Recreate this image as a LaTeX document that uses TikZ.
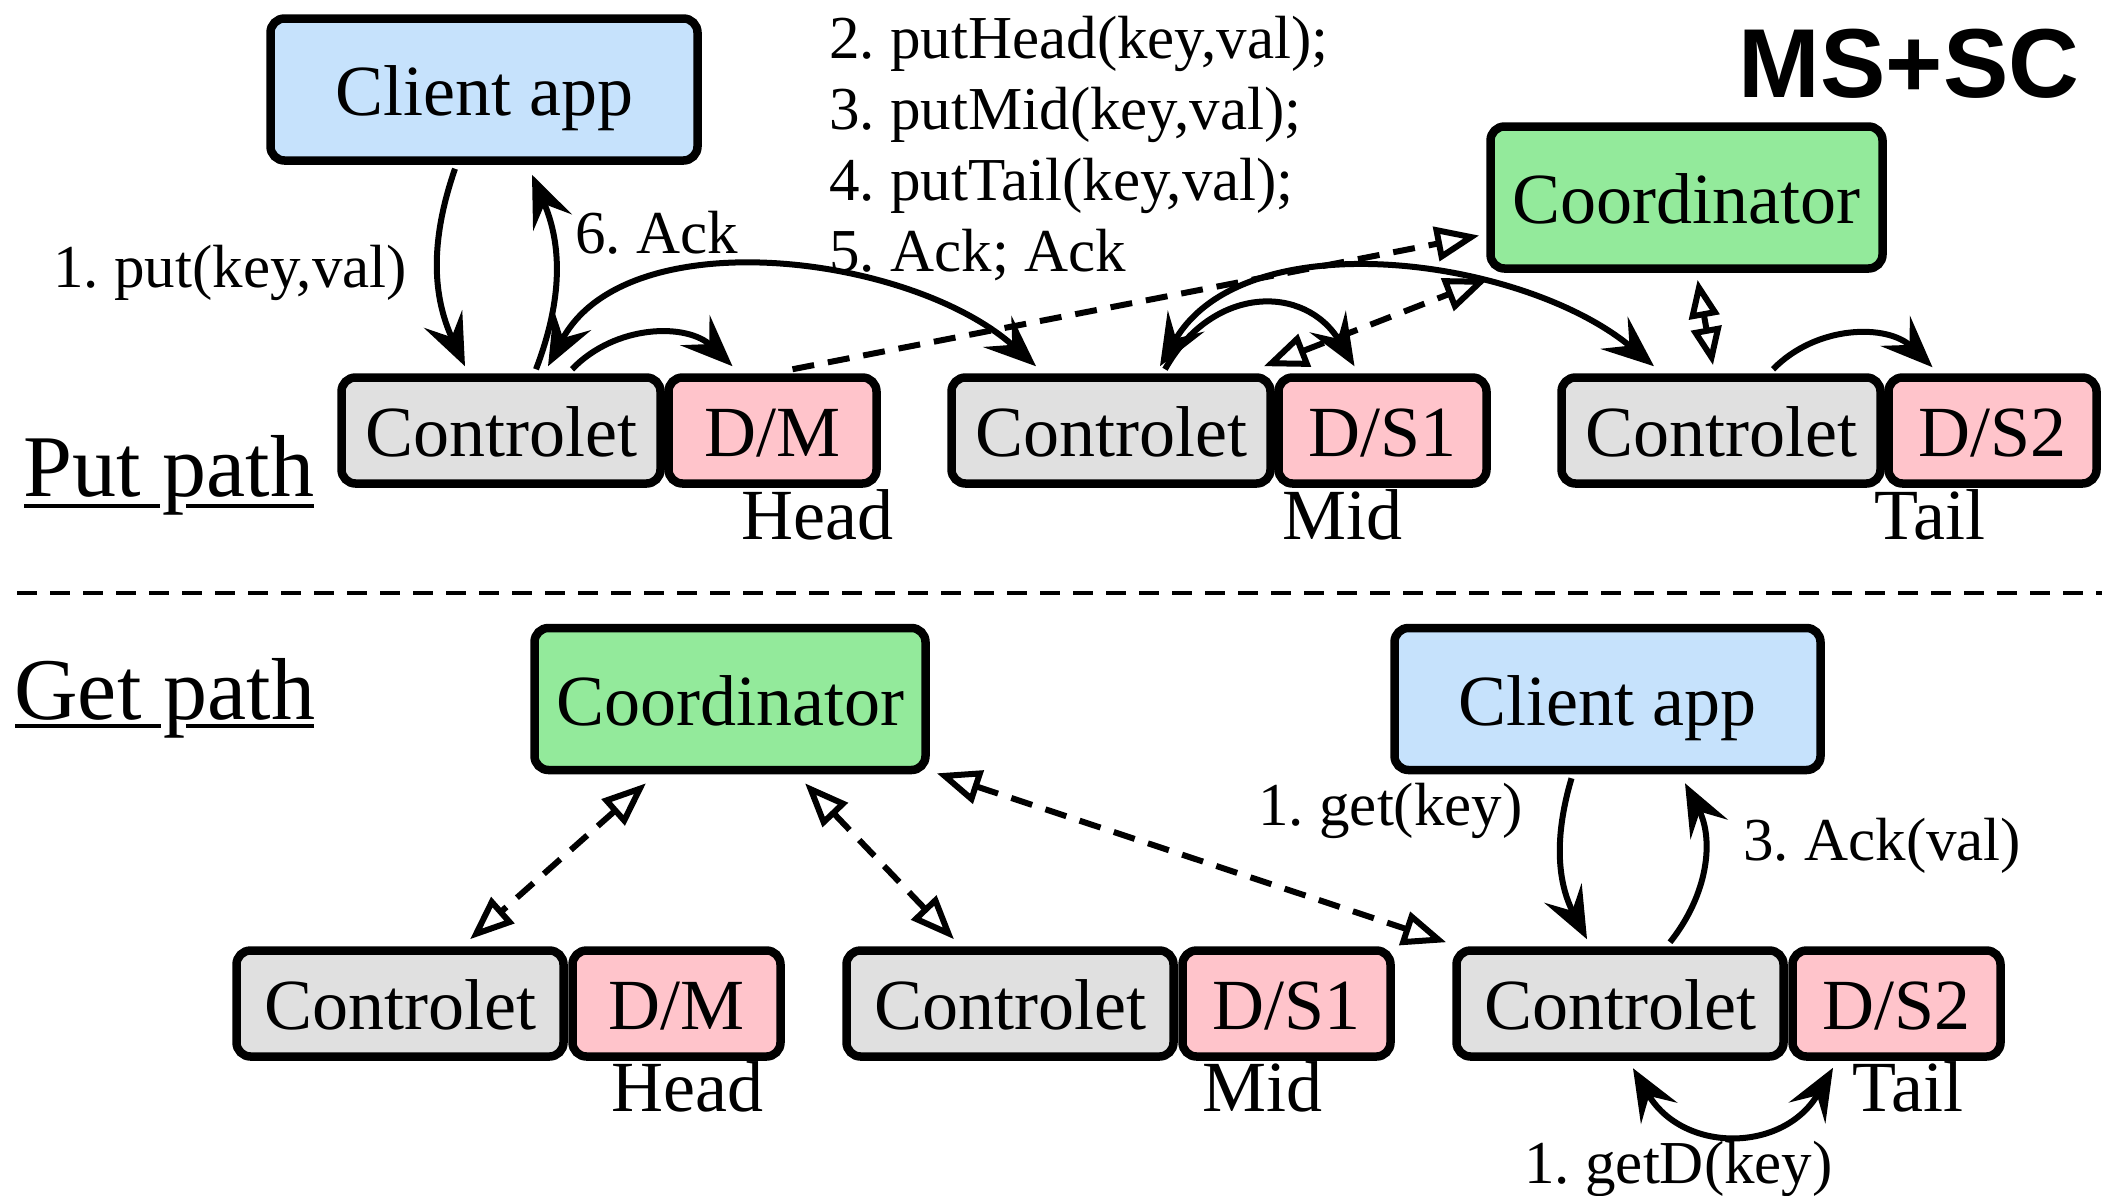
\documentclass[tikz,border=0pt]{standalone}
\usepackage{fontspec}
\setmainfont{Liberation Serif}
\setsansfont{Liberation Sans}
\usetikzlibrary{arrows.meta,calc}

\definecolor{clientblue}{HTML}{C6E2FC}
\definecolor{coordgreen}{HTML}{93EA9B}
\definecolor{ctrlgray}{HTML}{E0E0E0}
\definecolor{datapink}{HTML}{FFC4CB}

\begin{document}
\frenchspacing
\begin{tikzpicture}[x=0.5pt,y=-0.5pt,
  box/.style={draw=black, line width=4.25pt, rounded corners=7pt, inner sep=0pt,
    text height=26pt, text depth=0pt, font=\fontsize{36}{40}\selectfont},
  ctrlbox/.style={box, fill=ctrlgray, minimum width=#1, minimum height=53pt},
  databox/.style={box, fill=datapink, minimum width=104pt, minimum height=53pt},
  clientbox/.style={box, fill=clientblue, minimum width=213.5pt, minimum height=71pt},
  coordbox/.style={box, fill=coordgreen, minimum width=196pt, minimum height=71pt},
  msg/.style={inner sep=0pt, anchor=base west, font=\fontsize{30.5}{34}\selectfont},
  role/.style={inner sep=0pt, anchor=base, font=\fontsize{36}{40}\selectfont},
  pathlbl/.style={inner sep=0pt, anchor=base west, font=\fontsize{44}{48}\selectfont},
  flow/.style={line width=3pt},
  ctl/.style={line width=3pt, dash pattern=on 11pt off 7pt},
  tipS/.tip={Stealth[length=26pt, width=21pt, inset=10pt]},
  tipO/.tip={Triangle[open, length=22pt, width=17pt]},
  tipOs/.tip={Triangle[open, length=19pt, width=15pt]},
]
\useasboundingbox (0,0) rectangle (2102,1195);

% ---------------- put path ----------------
\node[clientbox] (ca) at (484,89.5) {Client app};
\node[coordbox] (co) at (1686.5,197.5) {Coordinator};

\node[ctrlbox=159.5pt] (hc) at (501,430.5) {Controlet};
\node[databox] (hd) at (772.5,430.5) {D/M};
\node[ctrlbox=159.5pt] (mc) at (1111,430.5) {Controlet};
\node[databox] (md) at (1382.5,430.5) {D/S1};
\node[ctrlbox=159.5pt] (tc) at (1721,430.5) {Controlet};
\node[databox] (td) at (1992.5,430.5) {D/S2};

\node[role] (hlbl) at (817.5,539) {Head};
\node[role] (mlbl) at (1342,539) {Mid};
\node[role] (tlbl) at (1930,539) {Tail};

\node[pathlbl] (putlbl) at (23,496) {Put path};
\draw[line width=2pt] ($(putlbl.base west)+(1,9.5)$) -- ($(putlbl.base west)+(137,9.5)$);
\draw[line width=2pt] ($(putlbl.base west)+(163,9.5)$) -- ($(putlbl.base east)+(-1,9.5)$);

\node[inner sep=0pt, anchor=base, font=\sffamily\bfseries\fontsize{49}{52}\selectfont] (title) at (1909,97) {MS+SC};

\node[msg] (m2) at (829,58) {2. putHead(key,val);};
\node[msg] (m3) at (829,129) {3. putMid(key,val);};
\node[msg] (m4) at (829,200) {4. putTail(key,val);};
\node[msg] (m5) at (829,271) {5. Ack; Ack};
\node[msg] (m1) at (53,287) {1. put(key,val)};
\node[msg] (m6) at (575,253) {6. Ack};

% client <-> head controlet
\draw[flow,-{tipS}] ($(ca.south)+(-29,4)$) to[bend right=22] ($(hc.north)+(-36,-7)$);
\draw[flow,-{tipS}] ($(hc.north)+(35,-4)$) to[bend right=22] ($(ca.south)+(48,10)$);
% chain hops
\draw[flow,{tipS}-{tipS}] ($(hc.north)+(47,-7)$) to[out=62,in=138,looseness=0.88] ($(mc.north)+(-75,-7)$);
\draw[flow,{tipS}-{tipS}] ($(mc.north)+(49,-7)$) to[out=60,in=140,looseness=0.88] ($(tc.north)+(-67,-7)$);
% controlet -> local data
\draw[flow,-{tipS}] ($(hc.north)+(71,-4)$) to[bend left=45] ($(hd.north)+(-40,-7)$);
\draw[flow,-{tipS}] ($(mc.north)+(54,-4)$) to[bend left=60,looseness=1.3] ($(md.north)+(-28,-7)$);
\draw[flow,-{tipS}] ($(tc.north)+(52,-4)$) to[bend left=45] ($(td.north)+(-60,-6)$);
% coordinator control links
\draw[ctl,-{tipO}] ($(hd.north)+(20,-4)$) -- ($(co.west)+(-7,38)$);
\draw[ctl,{tipO}-{tipO}] ($(mc.north east)+(-11,-7)$) -- ($(co.south west)+(2,6)$);
\draw[ctl,{tipOs}-{tipOs}] ($(co.south)+(11,7)$) -- ($(tc.north)+(-8,-8)$);

% ---------------- separator ----------------
\draw[line width=2.2pt, dash pattern=on 10pt off 6.5pt] (17,593) -- (2102,593);

% ---------------- get path ----------------
\node[pathlbl] (getlbl) at (14,719) {Get path};
\draw[line width=2pt] ($(getlbl.base west)+(1,7)$) -- ($(getlbl.base west)+(147,7)$);
\draw[line width=2pt] ($(getlbl.base west)+(172,7)$) -- ($(getlbl.base east)+(-1,7)$);

\node[coordbox, minimum width=195.5pt] (bco) at (730,699) {Coordinator};
\node[clientbox, minimum width=213pt] (bca) at (1607.5,699) {Client app};

\node[ctrlbox=163.5pt] (bhc) at (400,1003.5) {Controlet};
\node[databox] (bhd) at (676.5,1003.5) {D/M};
\node[ctrlbox=163.5pt] (bmc) at (1010,1003.5) {Controlet};
\node[databox] (bmd) at (1286.5,1003.5) {D/S1};
\node[ctrlbox=163.5pt] (btc) at (1620,1003.5) {Controlet};
\node[databox] (btd) at (1896.5,1003.5) {D/S2};

\node[role] (bhlbl) at (687.5,1111) {Head};
\node[role] (bmlbl) at (1262,1111) {Mid};
\node[role] (btlbl) at (1907.5,1111) {Tail};

\node[msg] (g1) at (1258,825) {1. get(key)};
\node[msg] (g3) at (1743,860) {3. Ack(val)};
\node[msg] (gd) at (1524,1183) {1. getD(key)};

% coordinator control links
\draw[ctl,{tipO}-{tipO}] ($(bco.south)+(-84,9)$) -- ($(bhc.north)+(70,-7)$);
\draw[ctl,{tipO}-{tipO}] ($(bco.south)+(75,9)$) -- ($(bmc.north)+(-56,-7)$);
\draw[ctl,{tipO}-{tipO}] ($(bco.south east)+(7,-1)$) -- ($(btc.north west)+(-6,-4)$);
% client <-> tail controlet
\draw[flow,-{tipS}] ($(bca.south)+(-36,4)$) to[bend right=22] ($(btc.north)+(-33,-7)$);
\draw[flow,-{tipS}] ($(btc.north)+(50,-4)$) to[bend right=33] ($(bca.south)+(77.5,9)$);
% tail controlet <-> local data
\draw[flow,{tipS}-{tipS}] ($(btc.south)+(13,7.5)$) to[bend right=60,looseness=1.26] ($(btd.south)+(-63.5,7)$);
\end{tikzpicture}
\end{document}
